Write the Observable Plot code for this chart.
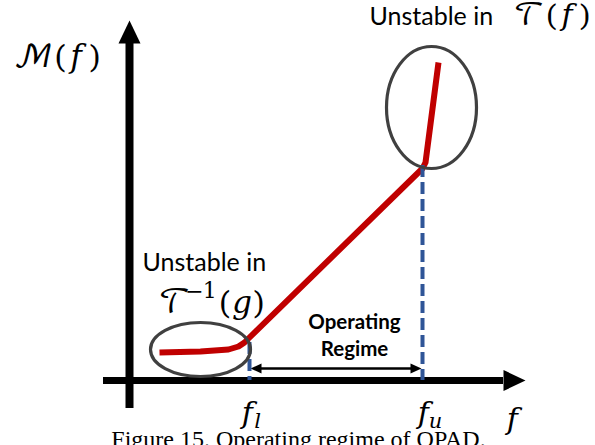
<!DOCTYPE html>
<html>
<head>
<meta charset="utf-8">
<script src="https://cdn.jsdelivr.net/npm/d3@7"></script>
<script src="https://cdn.jsdelivr.net/npm/@observablehq/plot@0.6"></script>
<style>
  html, body { margin: 0; padding: 0; background: white; overflow: hidden; }
</style>
</head>
<body>
<div id="chart"></div>
<script>
// ---- data (schematic units: f along x, M(f) along y, origin at axes crossing) ----
const curveF = [31, 72, 100, 110, 116, 121, 294, 297, 310];
const curveM = [28, 29, 31, 34, 38, 43, 212, 218, 318];

const fLower = 121;           // f_l
const fUpper = 294;           // f_u
const mAtLower = 43;          // M(f_l)
const mAtUpper = 215;         // M(f_u)

const unstableF = [72, 303];  // centres of the unstable regions
const unstableM = [31, 273];

const axisXExtent = [-25, 375, 397]; // start, shaft end, tip
const axisYExtent = [-28, 337, 360];

const regimeM = 12;
const regimeF = [123, 292];

const tickLabels = ["\u{1D453}", "\u{1D453}"];
const tickSubs = ["\u{1D459}", "\u{1D462}"];

// ---- build tables ----
const curve = curveF.map((f, i) => ({f, M: curveM[i]}));
const lowerEllipse = [{f: unstableF[0], M: unstableM[0]}];
const upperEllipse = [{f: unstableF[1], M: unstableM[1]}];

function ellipseSymbol(rx, ry) {
  const k = 0.5523;
  return {
    draw(c) {
      c.moveTo(rx, 0);
      c.bezierCurveTo(rx, ry * k, rx * k, ry, 0, ry);
      c.bezierCurveTo(-rx * k, ry, -rx, ry * k, -rx, 0);
      c.bezierCurveTo(-rx, -ry * k, -rx * k, -ry, 0, -ry);
      c.bezierCurveTo(rx * k, -ry, rx, -ry * k, rx, 0);
      c.closePath();
    }
  };
}
function triSymbol(w, h) {
  return {
    draw(c) {
      c.moveTo(0, -h);
      c.lineTo(w / 2, 0);
      c.lineTo(-w / 2, 0);
      c.closePath();
    }
  };
}

const serif = "'Liberation Serif', 'DejaVu Serif', serif";
const sans = "Lato, 'Open Sans', sans-serif";
const mathFont = "'DejaVu Math TeX Gyre', 'DejaVu Serif', 'Liberation Serif', serif";

const chart = Plot.plot({
  width: 595,
  height: 445,
  margin: 0,
  x: {domain: [-128, 467], range: [0, 595], axis: null},
  y: {domain: [-65, 380], range: [445, 0], axis: null},
  style: {background: "white", overflow: "visible"},
  marks: [
    // axes shafts
    Plot.ruleY([0], {x1: axisXExtent[0], x2: axisXExtent[1], y: 0, stroke: "black", strokeWidth: 7}),
    Plot.ruleX([1], {y1: axisYExtent[0], y2: axisYExtent[1], x: 1, stroke: "black", strokeWidth: 8}),
    // axes arrow heads
    Plot.dot([{f: axisXExtent[1], M: 0}], {x: "f", y: "M", symbol: triSymbol(21, axisXExtent[2] - axisXExtent[1]), rotate: 90, fill: "black", stroke: "none"}),
    Plot.dot([{f: 1, M: axisYExtent[1]}], {x: "f", y: "M", symbol: triSymbol(22, axisYExtent[2] - axisYExtent[1]), fill: "black", stroke: "none"}),
    // operating regime arrow
    Plot.ruleY([regimeM], {x1: regimeF[0] + 8, x2: regimeF[1] - 8, y: regimeM, stroke: "black", strokeWidth: 2.5}),
    Plot.dot([{f: regimeF[0] + 10, M: regimeM}], {x: "f", y: "M", symbol: triSymbol(10, 11), rotate: -90, fill: "black", stroke: "none"}),
    Plot.dot([{f: regimeF[1] - 10, M: regimeM}], {x: "f", y: "M", symbol: triSymbol(10, 11), rotate: 90, fill: "black", stroke: "none"}),
    // red curve
    Plot.line(curve, {x: "f", y: "M", stroke: "#c00000", strokeWidth: 6, strokeLinejoin: "round", strokeLinecap: "butt"}),
    // dashed markers
    Plot.ruleX([fLower], {x: d => d, y1: mAtLower - 5, y2: 0, stroke: "#2f5597", strokeWidth: 4, strokeDasharray: "12,5"}),
    Plot.ruleX([fUpper], {x: d => d, y1: mAtUpper, y2: 0, stroke: "#2f5597", strokeWidth: 4, strokeDasharray: "12,5"}),
    // ellipses
    Plot.dot(lowerEllipse, {x: "f", y: "M", symbol: ellipseSymbol(50, 27), fill: "none", stroke: "#404040", strokeWidth: 3.2}),
    Plot.dot(upperEllipse, {x: "f", y: "M", symbol: ellipseSymbol(45, 61), fill: "none", stroke: "#404040", strokeWidth: 3.2}),
    // text labels
    Plot.text(["\u2133(\u{1D453})"], {x: -115, y: 314, text: d => d, textAnchor: "start", lineAnchor: "bottom", fontFamily: mathFont, fontSize: 31, fill: "black"}),
    Plot.text(["Unstable in"], {x: 241, y: 356, text: d => d, textAnchor: "start", lineAnchor: "bottom", fontFamily: sans, fontSize: 25, fill: "black"}),
    Plot.text(["\u{1D4AF}(\u{1D453})"], {x: 385, y: 356, text: d => d, textAnchor: "start", lineAnchor: "bottom", fontFamily: mathFont, fontSize: 30, fill: "black"}),
    Plot.text(["Unstable in"], {x: 14, y: 110, text: d => d, textAnchor: "start", lineAnchor: "bottom", fontFamily: sans, fontSize: 25, fill: "black"}),
    Plot.text(["\u{1D4AF}"], {x: 30, y: 68, text: d => d, textAnchor: "start", lineAnchor: "bottom", fontFamily: mathFont, fontSize: 31, fill: "black"}),
    Plot.text(["\u22121"], {x: 57, y: 83, text: d => d, textAnchor: "start", lineAnchor: "bottom", fontFamily: mathFont, fontSize: 22, fill: "black"}),
    Plot.text(["(\u{1D454})"], {x: 89, y: 68, text: d => d, textAnchor: "start", lineAnchor: "bottom", fontFamily: mathFont, fontSize: 31, fill: "black"}),
    Plot.text(["Operating"], {x: 226, y: 52, text: d => d, textAnchor: "middle", lineAnchor: "bottom", fontFamily: sans, fontWeight: "bold", fontSize: 20.5, fill: "black"}),
    Plot.text(["Regime"], {x: 226, y: 25, text: d => d, textAnchor: "middle", lineAnchor: "bottom", fontFamily: sans, fontWeight: "bold", fontSize: 20.5, fill: "black"}),
    // tick labels f_l, f_u
    Plot.text(tickLabels, {x: (d, i) => [fLower - 12, fUpper - 9][i], y: -42, text: d => d, textAnchor: "start", lineAnchor: "bottom", fontFamily: mathFont, fontSize: 30, fill: "black"}),
    Plot.text(tickSubs, {x: (d, i) => [fLower + 4, fUpper + 6][i], y: -47, text: d => d, textAnchor: "start", lineAnchor: "bottom", fontFamily: mathFont, fontSize: 21, fill: "black"}),
    Plot.text(["\u{1D453}"], {x: 374, y: -48, text: d => d, textAnchor: "start", lineAnchor: "bottom", fontFamily: mathFont, fontSize: 30, fill: "black"}),
    // caption (cut by the frame, as in the source figure)
    Plot.text(["Figure 15. Operating regime of OPAD."], {x: 170, y: -66, text: d => d, textAnchor: "middle", lineAnchor: "bottom", fontFamily: serif, fontSize: 24, fill: "black"})
  ]
});
document.getElementById("chart").appendChild(chart);
</script>
</body>
</html>
